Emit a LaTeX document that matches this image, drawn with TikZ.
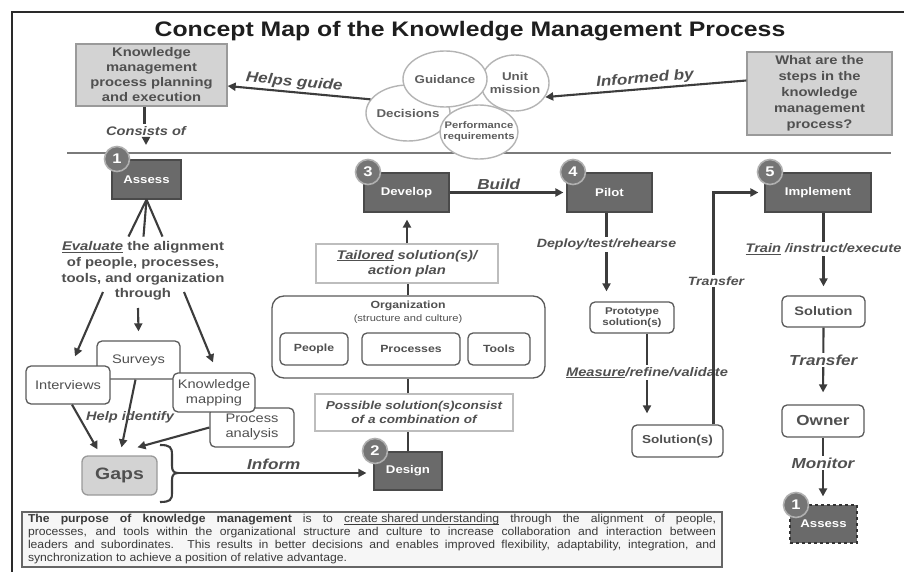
\documentclass[tikz,border=0pt]{standalone}
\usepackage{fontspec}
\setmainfont[FakeStretch=1.18]{Liberation Sans}
\newfontfamily\plainsans[FakeStretch=1.06]{Liberation Sans}
\usetikzlibrary{arrows.meta,shapes.geometric,calc}
\definecolor{txt}{HTML}{505050}
\definecolor{arrc}{HTML}{3C3C3C}
\definecolor{stepfill}{HTML}{6A6A6A}
\definecolor{stepdraw}{HTML}{4A4A4A}
\definecolor{badgefill}{HTML}{757575}
\definecolor{badgedraw}{HTML}{B0B0B0}
\definecolor{boxdraw}{HTML}{5A5A5A}
\definecolor{lightfill}{HTML}{D3D3D3}
\definecolor{lightdraw}{HTML}{9A9A9A}
\definecolor{bubdraw}{HTML}{B4B4B4}
\definecolor{bubtxt}{HTML}{5E5E5E}
\definecolor{thinbox}{HTML}{BDBDBD}
\definecolor{sepc}{HTML}{7A7A7A}
\definecolor{titlec}{HTML}{1E1E1E}
\definecolor{framec}{HTML}{2A2A2A}
\definecolor{notedraw}{HTML}{666666}
\definecolor{notefill}{HTML}{F6F6F6}
\definecolor{notetxt}{HTML}{3A3A3A}
\newcommand\fs[2]{\fontsize{#1}{#2}\selectfont}
\newsavebox\ulbox
\newcommand\ulx[1]{\sbox\ulbox{#1}\rlap{\rule[-1.8pt]{\wd\ulbox}{0.7pt}}\usebox\ulbox}
\begin{document}
\begin{tikzpicture}[x=1pt,y=-1pt,
  arr/.style={draw=arrc, line width=2.1pt, -{Triangle[length=8pt,width=8pt]}},
  arrL/.style={draw=arrc, line width=2.1pt, {Triangle[length=8pt,width=8pt]}-},
  ln/.style={draw=arrc, line width=2.1pt},
  stepbox/.style={rectangle, fill=stepfill, draw=stepdraw, line width=1.2pt, text=white, font=\bfseries\fs{11.2}{13}, minimum height=39pt, inner sep=0pt},
  badge/.style={circle, fill=badgefill, draw=badgedraw, line width=1.6pt, text=white, font=\bfseries\fs{14}{14}, minimum size=25pt, inner sep=0pt},
  rbox/.style={rectangle, rounded corners=5pt, draw=boxdraw, fill=white, line width=1.3pt, text=txt, align=center, inner sep=0pt, font=\fs{12.4}{15}},
  bbox/.style={rectangle, rounded corners=5pt, draw=boxdraw, fill=white, line width=1.3pt, text=txt, align=center, inner sep=0pt, font=\bfseries\fs{10.4}{12}},
  graybox/.style={rectangle, fill=lightfill, draw=lightdraw, line width=1.3pt, text=txt, font=\bfseries\fs{12.5}{15}, align=center, inner sep=0pt},
  thinrect/.style={rectangle, fill=white, draw=thinbox, line width=1.2pt, text=txt, align=center, inner sep=0pt, font=\bfseries\itshape\fs{12.5}{15}},
  bubble/.style={ellipse, draw=bubdraw, fill=white, line width=1.4pt, text=bubtxt, font=\bfseries\fs{11.3}{13}, align=center, inner xsep=-8pt, inner ysep=0pt},
  lbl/.style={text=txt, font=\bfseries\itshape\fs{12.4}{15}, inner sep=2pt},
  lblbig/.style={text=txt, font=\bfseries\itshape\fs{14.5}{17}, inner sep=2pt}
]
\useasboundingbox (0,0) rectangle (904,572);
\fill[white] (0,0) rectangle (904,572);
% frame
\draw[framec, line width=2pt] (12,572) -- (12,12) -- (904,12);
% title
\node[font=\bfseries\fs{21}{24}, text=titlec, anchor=base, inner sep=0pt] (title) at (470,37) {Concept Map of the Knowledge Management Process};
% separator
\draw[sepc, line width=1.6pt] (67,153) -- (891,153);

% top boxes
\node[graybox, minimum width=151pt, minimum height=62pt] (kmbox) at (151.5,75) {Knowledge\\management\\process planning\\and execution};
\node[graybox, minimum width=145pt, minimum height=83pt, font=\bfseries\fs{12.5}{16}] (qbox) at (819.5,93.5) {What are the\\steps in the\\knowledge\\management\\process?};

% bubbles
\node[bubble, minimum width=84pt, minimum height=56pt] (dec) at (408,113) {Decisions};
\node[bubble, minimum width=68pt, minimum height=56pt, font=\bfseries\fs{11.3}{13.5}] (unit) at (515,83) {Unit\\mission};
\node[bubble, minimum width=84pt, minimum height=56pt] (guid) at (445,79) {Guidance};
\node[bubble, minimum width=78pt, minimum height=54pt, inner xsep=-14pt, font=\bfseries\fs{9.5}{11}] (perf) at (479,132) {Performance\\requirements};

\draw[arrL] ([yshift=-11pt]kmbox.east) -- node[lblbig, above, sloped, pos=0.46] {Helps guide} (dec.160);
\draw[arrL] (unit.-25) -- node[lblbig, above, sloped, pos=0.5] {Informed by} ([yshift=13pt]qbox.west);

\node[lbl] (cons) at (146,131) {Consists of};
\draw[ln] ([xshift=-7pt]kmbox.south) -- ([xshift=-7pt]kmbox.south |- cons.north);
\coordinate (consend) at (146,145);
\draw[arr] (cons.south) -- (consend);

% step boxes
\node[stepbox, minimum width=69pt] (assess) at (146.5,179.5) {Assess};
\node[stepbox, minimum width=85pt] (dev) at (406.5,192.5) {Develop};
\node[stepbox, minimum width=85pt] (pilot) at (609.5,192.5) {Pilot};
\node[stepbox, minimum width=106pt] (impl) at (818,192.5) {Implement};
\node[stepbox, minimum width=68pt, minimum height=38pt] (design) at (408,471) {Design};
\node[stepbox, minimum width=67pt, minimum height=38pt, dashed, draw=black!80] (assess2) at (823.5,524) {Assess};

% evaluate column
\node[font=\bfseries\fs{12.6}{15.6}, text=txt, align=center, inner sep=0pt] (eval) at (143,271) {\ulx{\itshape Evaluate} the alignment\\of people, processes,\\tools, and organization\\through};
\draw[ln] (assess.south) -- ($(assess.south)+(-18,37)$);
\draw[ln] (assess.south) -- ($(assess.south)+(-3,37)$);
\draw[ln] (assess.south) -- ($(assess.south)+(16,37)$);

\node[rbox, minimum width=83pt, minimum height=38pt] (surv) at (138.5,360) {Surveys};
\node[rbox, minimum width=84pt, minimum height=38pt] (intv) at (68,385) {Interviews};
\node[rbox, minimum width=84pt, minimum height=39pt] (proc) at (252,427.5) {Process\\analysis};
\node[rbox, minimum width=82pt, minimum height=39pt] (kmap) at (214,392.5) {Knowledge\\mapping};

\draw[arr] ($(eval.center)+(-40,21)$) -- ($(intv.north)+(7,-9)$);
\draw[arr] ($(eval.center)+(-5,37)$) -- ($(surv.north)+(0,-9)$);
\draw[arr] ($(eval.center)+(41,21)$) -- ($(kmap.north)+(-1,-10)$);

\node[graybox, rounded corners=6pt, minimum width=75pt, minimum height=39pt, font=\bfseries\fs{16.5}{18}] (gaps) at (119.5,475.5) {Gaps};

\draw[arr] ([xshift=4pt]intv.south) -- ($(gaps.north)+(-22,-6)$);
\draw[arr] ([xshift=-3pt]surv.south) -- ($(gaps.north)+(2,-8)$);
\draw[arr] (proc.west) -- ($(gaps.north)+(18,-8)$);
\node[lbl] (help) at (130,417) {Help identify};

% brace and inform
\coordinate (brtip) at (178,473);
\draw[ln] (160,445) .. controls (170,445) and (172,447) .. (172,455) -- (172,466) .. controls (172,471) and (174,473) .. (brtip) .. controls (174,473) and (172,475) .. (172,480) -- (172,493) .. controls (172,500) and (170,502) .. (160,502);
\draw[arr, shorten >=7pt] (brtip) -- node[lblbig, above, pos=0.49] {Inform} (design.west |- brtip);

% design / develop column
\node[thinrect, minimum width=198pt, minimum height=37pt, font=\bfseries\itshape\fs{11.5}{14}] (poss) at (414,412.5) {Possible solution(s)consist\\of a combination of};
\node[rectangle, rounded corners=12pt, draw=boxdraw, line width=1.3pt, fill=white, minimum width=273pt, minimum height=82pt, inner sep=0pt] (org) at (408.5,337) {};
\node[text=txt, font=\bfseries\fs{10.4}{12}, inner sep=0pt] (orgt) at (408,306) {Organization};
\node[text=txt, font=\fs{9.4}{11}, inner sep=0pt] (orgs) at (408,319) {(structure and culture)};
\node[bbox, minimum width=68pt, minimum height=32pt] (people) at (314,349) {People};
\node[bbox, minimum width=98pt, minimum height=32pt] (procs) at (411,349) {Processes};
\node[bbox, minimum width=62pt, minimum height=32pt] (tools) at (499,349) {Tools};
\node[thinrect, minimum width=182pt, minimum height=39pt] (tail) at (407,263.5) {\ulx{Tailored} solution(s)/\\action plan};

\draw[ln] (design.north) -- (design.north |- poss.south);
\draw[ln] (poss.north -| design.north) -- (org.south -| design.north);
\draw[ln] (org.north -| design.north) -- (tail.south -| design.north);
\draw[arr, shorten >=7pt] (tail.north) -- (tail.north |- dev.south);

\draw[arr, shorten >=3pt] (dev.east) -- node[lblbig, above, pos=0.42] {Build} (pilot.west);

% pilot column
\node[bbox, minimum width=84pt, minimum height=31pt, font=\bfseries\fs{9.8}{11.5}] (proto) at (632,317.5) {Prototype\\solution(s)};
\node[bbox, minimum width=91pt, minimum height=32pt, font=\bfseries\fs{11.5}{13}] (sols) at (677.5,441) {Solution(s)};
\draw[arr, shorten >=10pt] ([xshift=-3pt]pilot.south) -- node[lbl, fill=white, pos=0.36, font=\bfseries\itshape\fs{12}{14}] {Deploy/test/rehearse} ([xshift=-3pt]pilot.south |- proto.north);
\coordinate (mtop) at ($(proto.south)+(15,0)$);
\draw[arr, shorten >=11pt] (mtop) -- node[lbl, fill=white, pos=0.43] {\ulx{Measure}/refine/validate} (mtop |- sols.north);
\coordinate (tstart) at ($(sols.north)+(36,0)$);
\draw[arr, shorten >=6pt] (tstart) |- (impl.west);
\node[lbl, fill=white, font=\bfseries\itshape\fs{12}{14}] (transf1) at (716,281) {Transfer};

% implement column
\node[bbox, minimum width=83pt, minimum height=31pt, font=\bfseries\fs{12.3}{14}] (sol) at (823.5,311.5) {Solution};
\node[bbox, minimum width=82pt, minimum height=32pt, font=\bfseries\fs{14.5}{16}] (owner) at (823,421) {Owner};
\draw[arr, shorten >=9pt] (sol.north |- impl.south) -- node[lbl, fill=white, pos=0.44] {\ulx{Train} /instruct/execute} (sol.north);
\draw[arr, shorten >=12pt] (sol.south) -- node[lblbig, fill=white, pos=0.42] {Transfer} (owner.north);
\draw[arr, shorten >=8pt] (owner.south) -- node[lblbig, fill=white, pos=0.38] {Monitor} (owner.south |- assess2.north);

% badges
\node[badge] (b1) at (117,159) {1};
\node[badge] (b3) at (368,172) {3};
\node[badge] (b4) at (573,172) {4};
\node[badge] (b5) at (770,172) {5};
\node[badge] (b2) at (375,451) {2};
\node[badge] (b1b) at (796,505) {1};

% note
\node[draw=notedraw, line width=1.3pt, fill=notefill, text width=688pt, inner xsep=6pt, inner ysep=0pt, minimum height=55pt, align=justify, font=\plainsans\fs{11.5}{13}, text=notetxt] (note) at (372,539.5) {{\bfseries The purpose of knowledge management} is to \ulx{create shared understanding} through the alignment of people,\linebreak processes, and tools within the organizational structure and culture to increase collaboration and interaction between\linebreak leaders and subordinates. This results in better decisions and enables improved flexibility, adaptability, integration, and\linebreak synchronization to achieve a position of relative advantage.};
\end{tikzpicture}
\end{document}
